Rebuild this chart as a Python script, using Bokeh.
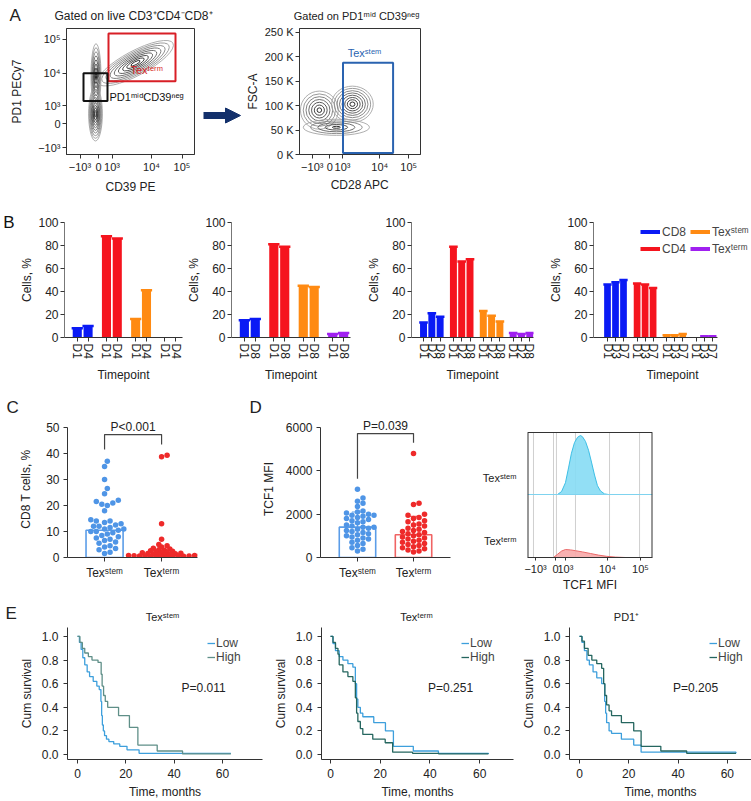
import numpy as np
from bokeh.plotting import figure
from bokeh.layouts import row, column
from bokeh.models import (FixedTicker, Label, Legend, LegendItem, Arrow, NormalHead,
                          Range1d, NumeralTickFormatter, LinearAxis)
from bokeh.core.properties import value
from bokeh.embed import file_html
from bokeh.resources import INLINE

FONT = "Liberation Sans"

# ---------------- Panel A : flow gating (channel units 0-1024, biexponential ticks) ----------------
a_titles = ["Gated on live CD3⁺CD4⁻CD8⁺", "Gated on PD1ᵐⁱᵈ CD39ⁿᵉᵍ"]
a_x_tick_ch = [108, 256, 364, 680, 924]
a_x_tick_lab = ["−10³", "0", "10³", "10⁴", "10⁵"]
a1_y_tick_ch = [56, 250, 395, 661, 935]
a1_y_tick_lab = ["−10³", "0", "10³", "10⁴", "10⁵"]
a2_y_ticks = [0, 50000, 100000, 150000, 200000, 250000]
a2_y_tick_lab = ["0 K", "50 K", "100 K", "150 K", "200 K", "250 K"]

a1_pop_x = [232, 236, 552]
a1_pop_y = [330, 640, 742]
a1_pop_w = [110, 80, 680]
a1_pop_h = [440, 520, 200]
a1_pop_angle = [0.0, 0.0, 0.49]
a1_pop_levels = [10, 8, 9]

a2_pop_x = [168, 448, 312]
a2_pop_y = [90800, 103000, 55700]
a2_pop_w = [320, 352, 560]
a2_pop_h = [78000, 74000, 33000]
a2_pop_angle = [0.0, 0.0, 0.0]
a2_pop_levels = [7, 8, 5]

a1_gate_term = [336, 872, 596, 983]   # left, right, bottom, top
a1_gate_mid = [136, 328, 435, 661]
a2_gate_stem = [368, 792, 3000, 188000]

# ---------------- Panel B : bar charts ----------------
b_groups = ["CD8", "CD4", "Texˢᵗᵉᵐ", "Texᵗᵉʳᵐ"]
b_colors = ["#0a1af5", "#f5141e", "#ff8a12", "#a020f0"]
b1_days = ["D1", "D4"]
b1_cd8 = [8, 10]
b1_cd4 = [88, 86]
b1_stem = [16, 41]
b1_term = [0, 0]
b2_days = ["D1", "D8"]
b2_cd8 = [15, 16]
b2_cd4 = [81, 79]
b2_stem = [45, 44]
b2_term = [3, 4]
b3_days = ["D1", "D2", "D8"]
b3_cd8 = [13, 21, 18]
b3_cd4 = [79, 66, 68]
b3_stem = [23, 19, 14]
b3_term = [4, 3, 4]
b4_days = ["D1", "D3", "D7"]
b4_cd8 = [46, 48, 50]
b4_cd4 = [47, 46, 43]
b4_stem = [2, 2, 3]
b4_term = [0, 1, 1]
b_y_ticks = [0, 20, 40, 60, 80, 100]

# ---------------- Panel C / D ----------------
cd_categories = ["Texˢᵗᵉᵐ", "Texᵗᵉʳᵐ"]
c_stem = [37, 35, 30, 26.5, 24.5, 22, 21.5, 21, 20.5, 20, 18, 14.5, 14, 14, 13.5, 13, 12.5,
          12, 12, 11.5, 11, 11, 10.5, 10, 10, 9.5, 9, 8.5, 8, 7.5, 7, 6.5, 6, 5.5, 4.5, 4,
          3.5, 3, 2, 1.5]
c_term = [39.3, 38.8, 13, 7, 5, 4.5, 4, 3.6, 3.3, 3.0, 2.8, 2.6, 2.4, 2.2, 2.0, 1.9, 1.8,
          1.6, 1.5, 1.4, 1.3, 1.2, 1.1, 1.0, 0.9, 0.8, 0.8, 0.7, 0.6, 0.6, 0.5, 0.5, 0.4,
          0.4, 0.3, 0.3, 0.2, 0.2]
c_bar = [10.5, 1.2]
c_pvalue = "P<0.001"
d_stem = [3150, 2750, 2600, 2500, 2350, 2150, 2100, 2050, 2000, 1950, 1950, 1900, 1850, 1800,
          1750, 1700, 1650, 1600, 1500, 1450, 1400, 1400, 1350, 1300, 1250, 1200, 1150, 1100,
          1050, 1000, 950, 900, 850, 800, 700, 650, 550, 450, 380, 300]
d_term = [4800, 2500, 2450, 2000, 1950, 1850, 1800, 1700, 1650, 1550, 1500, 1450, 1350, 1300,
          1250, 1200, 1150, 1100, 1050, 1000, 950, 900, 850, 800, 750, 700, 650, 600, 550,
          500, 450, 400, 350, 300, 250]
d_bar = [1400, 1050]
d_sd = [700, 850]
d_pvalue = "P=0.039"

# histogram (TCF1 MFI), channel units
hist_tick_ch = [66, 229, 311, 655, 925]
hist_tick_lab = ["−10³", "0", "10³", "10⁴", "10⁵"]
hist_grid_ch = [49, 213, 237, 393, 672, 918]
hist_stem_ch = [246, 279, 311, 336, 360, 385, 410, 434, 450, 475, 500, 524, 549, 573, 598, 631, 663]
hist_stem_h = [0, 0.05, 0.2, 0.45, 0.7, 0.88, 0.97, 1.0, 0.98, 0.9, 0.75, 0.55, 0.33, 0.15, 0.06, 0.01, 0]
hist_term_ch = [213, 246, 279, 311, 352, 393, 450, 516, 581, 647, 721, 803]
hist_term_h = [0, 0.4, 0.8, 1.0, 0.95, 0.85, 0.7, 0.5, 0.3, 0.15, 0.05, 0]

# ---------------- Panel E : Kaplan-Meier ----------------
km_titles = ["Texˢᵗᵉᵐ", "Texᵗᵉʳᵐ", "PD1⁺"]
km_pvalues = ["P=0.011", "P=0.251", "P=0.205"]
e1_low_t = [0, 0.8, 1.5, 2.2, 3, 4, 5, 6.5, 8, 9, 9.7, 10, 10.3, 10.7, 11.2, 12, 13, 15, 17.5, 20.5, 25.5, 63.5]
e1_low_s = [1.0, 0.95, 0.89, 0.82, 0.76, 0.7, 0.66, 0.62, 0.58, 0.55, 0.45, 0.33, 0.25, 0.2, 0.16, 0.13, 0.11, 0.09, 0.07, 0.04, 0.01, 0.01]
e1_high_t = [0, 1, 2, 3, 4.5, 6, 8.5, 9.8, 10.2, 10.8, 11.5, 12.5, 17, 21.5, 25, 33, 43.5, 63.5]
e1_high_s = [1.0, 0.95, 0.9, 0.86, 0.83, 0.8, 0.78, 0.68, 0.58, 0.5, 0.45, 0.4, 0.33, 0.23, 0.08, 0.03, 0.005, 0.005]
e2_low_t = [0, 1, 2, 3.5, 5, 7, 9, 10, 10.5, 11, 12, 13, 17.4, 22.1, 25.3, 33.3, 43.4, 63.5]
e2_low_s = [1.0, 0.94, 0.88, 0.83, 0.8, 0.77, 0.74, 0.6, 0.47, 0.4, 0.35, 0.32, 0.27, 0.2, 0.07, 0.03, 0.01, 0.005]
e2_high_t = [0, 1, 2, 3, 3.5, 5, 7, 9, 10, 10.5, 11, 12, 13, 17, 22, 25, 33, 43.5, 63.5]
e2_high_s = [1.0, 0.95, 0.9, 0.85, 0.76, 0.7, 0.66, 0.62, 0.48, 0.35, 0.28, 0.22, 0.17, 0.13, 0.1, 0.02, 0.01, 0.005, 0.005]
e3_low_t = [0, 1, 2, 3, 4, 5.5, 7, 9, 10.2, 10.6, 11, 12, 13, 17, 22, 25, 63.5]
e3_low_s = [1.0, 0.95, 0.88, 0.8, 0.76, 0.7, 0.65, 0.6, 0.45, 0.35, 0.27, 0.2, 0.18, 0.13, 0.08, 0.02, 0.01]
e3_high_t = [0, 1, 2, 3.5, 5, 7, 9, 9.8, 10.3, 11, 12, 13, 17, 22, 25, 33, 43.5, 63.5]
e3_high_s = [1.0, 0.96, 0.9, 0.84, 0.8, 0.77, 0.73, 0.6, 0.5, 0.42, 0.37, 0.33, 0.27, 0.2, 0.07, 0.03, 0.01, 0.01]
km_y_ticks = [0, 0.2, 0.4, 0.6, 0.8, 1.0]
km_x_ticks = [0, 20, 40, 60]

INK = "#222222"
BLUE_PT = "#4f95e6"
RED_PT = "#ee2a2a"
LOW_C = "#3d9fdc"
HIGH_C = "#25665f"
NAN = float("nan")


def make_fig(w, h, left, right, top, bottom, xr, yr):
    p = figure(width=w, height=h, x_range=xr, y_range=yr, output_backend="svg",
               toolbar_location=None, min_border_left=left, min_border_right=right,
               min_border_top=top, min_border_bottom=bottom,
               background_fill_color="white", border_fill_color="white")
    p.outline_line_color = None
    p.xgrid.visible = False
    p.ygrid.visible = False
    return p


def make_header(w, h, texts):
    """Strip holding panel letters and panel titles (positions in px, y from the strip bottom)."""
    p = figure(width=w, height=h, x_range=Range1d(0, w), y_range=Range1d(0, h),
               output_backend="svg", toolbar_location=None, x_axis_type=None,
               y_axis_type=None, min_border=0, background_fill_color="white",
               border_fill_color="white")
    p.outline_line_color = None
    p.xgrid.visible = False
    p.ygrid.visible = False
    for txt, x, y, size, align in texts:
        p.text(x=[x], y=[y], text=[txt], text_font=value(FONT),
               text_font_size=value("%dpx" % size), text_align=align,
               text_baseline="middle", text_color=INK)
    return p


def style_axes(p, tick_size="11px", label_size="12px", tick_std=3, lab_std=4):
    for ax in p.axis:
        ax.major_label_text_font = FONT
        ax.major_label_text_font_size = tick_size
        ax.major_label_text_color = INK
        ax.axis_label_text_font = FONT
        ax.axis_label_text_font_size = label_size
        ax.axis_label_text_font_style = "normal"
        ax.axis_label_text_color = INK
        ax.minor_tick_line_color = None
        ax.major_tick_in = 0
        ax.major_tick_out = 4
        ax.axis_line_color = "#333333"
        ax.major_tick_line_color = "#333333"
        ax.major_label_standoff = tick_std
        ax.axis_label_standoff = lab_std


def greys(n):
    vals = np.linspace(165, 25, n).astype(int)
    return ["#%02x%02x%02x" % (v, v, v) for v in vals]


def contours(p, xs, ys, ws, hs, angles, levels):
    for cx, cy, w, h, a, n in zip(xs, ys, ws, hs, angles, levels):
        fr = np.linspace(1.0, 0.12, n)
        p.ellipse(x=[cx] * n, y=[cy] * n, width=list(w * fr), height=list(h * fr),
                  angle=a, fill_color=None, line_color=greys(n), line_width=0.9)


def gate(p, g, color):
    p.quad(left=[g[0]], right=[g[1]], bottom=[g[2]], top=[g[3]], fill_color=None,
           line_color=color, line_width=2)


# ======================= Row A (all plots in a row share top/bottom borders) =======================
headerA = make_header(751, 24, [("A", 9, 9, 17, "left"), (a_titles[0], 133, 9, 12, "center"),
                                (a_titles[1], 356, 9, 11, "center")])

pA1 = make_fig(200, 173, 66, 6, 4, 43, Range1d(0, 1024), Range1d(0, 1024))
pA1.outline_line_color = "#333333"
contours(pA1, a1_pop_x, a1_pop_y, a1_pop_w, a1_pop_h, a1_pop_angle, a1_pop_levels)
gate(pA1, a1_gate_term, "#d81f26")
gate(pA1, a1_gate_mid, "#111111")
pA1.add_layout(Label(x=a1_gate_term[0] + 176, y=685, text="Texᵗᵉʳᵐ", text_color="#d81f26",
                     text_font=FONT, text_font_size="11px", text_baseline="middle"))
pA1.add_layout(Label(x=a1_gate_mid[1] + 16, y=467, text="PD1ᵐⁱᵈCD39ⁿᵉᵍ", text_color="#111111",
                     text_font=FONT, text_font_size="11px", text_baseline="middle"))
pA1.xaxis.ticker = FixedTicker(ticks=a_x_tick_ch)
pA1.xaxis.major_label_overrides = dict(zip(a_x_tick_ch, a_x_tick_lab))
pA1.yaxis.ticker = FixedTicker(ticks=a1_y_tick_ch)
pA1.yaxis.major_label_overrides = dict(zip(a1_y_tick_ch, a1_y_tick_lab))
pA1.xaxis.axis_label = "CD39 PE"
pA1.yaxis.axis_label = "PD1 PECy7"
style_axes(pA1, tick_size="11px", label_size="12px", tick_std=2, lab_std=4)
pA1.yaxis.axis_label_standoff = 11

# arrow strip: frame spans 126 px (same borders as the plots of this row)
pArrow = figure(width=42, height=173, x_range=Range1d(0, 42), y_range=Range1d(0, 126),
                output_backend="svg", toolbar_location=None, x_axis_type=None,
                y_axis_type=None, min_border_left=0, min_border_right=0,
                min_border_top=4, min_border_bottom=43)
pArrow.outline_line_color = None
pArrow.xgrid.visible = False
pArrow.ygrid.visible = False
pArrow.add_layout(Arrow(x_start=3, y_start=39, x_end=40, y_end=39, line_width=7,
                        line_color="#13306b",
                        end=NormalHead(size=15, fill_color="#13306b", line_color="#13306b")))

pA2 = make_fig(188, 173, 49, 10, 4, 43, Range1d(0, 1024), Range1d(0, 258000))
pA2.outline_line_color = "#333333"
contours(pA2, a2_pop_x, a2_pop_y, a2_pop_w, a2_pop_h, a2_pop_angle, a2_pop_levels)
gate(pA2, a2_gate_stem, "#2a63b0")
pA2.add_layout(Label(x=a2_gate_stem[0] + 40, y=208000, text="Texˢᵗᵉᵐ", text_color="#2a63b0",
                     text_font=FONT, text_font_size="11px", text_baseline="middle"))
pA2.xaxis.ticker = FixedTicker(ticks=a_x_tick_ch)
pA2.xaxis.major_label_overrides = dict(zip(a_x_tick_ch, a_x_tick_lab))
pA2.yaxis.ticker = FixedTicker(ticks=a2_y_ticks)
pA2.yaxis.major_label_overrides = dict(zip(a2_y_ticks, a2_y_tick_lab))
pA2.xaxis.axis_label = "CD28 APC"
pA2.yaxis.axis_label = "FSC-A"
style_axes(pA2, tick_size="11px", label_size="12px", tick_std=2, lab_std=2)

# ======================= Row B =======================
b_data = [
    (b1_days, [b1_cd8, b1_cd4, b1_stem, b1_term]),
    (b2_days, [b2_cd8, b2_cd4, b2_stem, b2_term]),
    (b3_days, [b3_cd8, b3_cd4, b3_stem, b3_term]),
    (b4_days, [b4_cd8, b4_cd4, b4_stem, b4_term]),
]
# figure width, left border, right border, x range, axis end, group step (layout only)
b_layout = [(184, 62, 2, -11.8, 97.3, 97.3, 27), (168, 46, 2, -11.8, 97.3, 97.3, 27),
            (183, 59, 2, -14.5, 132.5, 132.5, 36), (216, 58, 0, -17.5, 180.0, 137.5, 37)]
b_figs = []
for k, ((days, series), (w, lb, rb, x0, x1, xend, gstep)) in enumerate(zip(b_data, b_layout)):
    p = make_fig(w, 188, lb, rb, 25, 48, Range1d(x0, x1), Range1d(0, 100))
    ticks, labels = [], []
    for g, (vals, col) in enumerate(zip(series, b_colors)):
        xs = [g * gstep + i * 10 for i in range(len(vals))]
        ticks += xs
        labels += days
        p.vbar(x=xs, top=vals, width=8.4, fill_color=col, line_color=None)
        cx = [x for x, v in zip(xs, vals) if v > 0]
        cv = [v for v in vals if v > 0]
        if cx:
            p.segment(x0=[x - 5.2 for x in cx], y0=cv, x1=[x + 5.2 for x in cx], y1=cv,
                      line_color=col, line_width=2.5)
    p.xaxis.ticker = FixedTicker(ticks=ticks)
    p.xaxis.major_label_overrides = dict(zip(ticks, labels))
    p.xaxis.major_label_orientation = "vertical"
    p.xaxis.bounds = (x0, xend)
    p.yaxis.ticker = FixedTicker(ticks=b_y_ticks)
    p.xaxis.axis_label = "Timepoint"
    p.yaxis.axis_label = "Cells, %"
    style_axes(p, tick_size="12px", label_size="12px", tick_std=2, lab_std=1)
    p.xaxis.axis_label_standoff = 6
    p.yaxis.axis_line_color = "#777777"
    b_figs.append(p)

# panel letter "B" as an outer tick label on the first chart
letter_axis = LinearAxis(ticker=FixedTicker(ticks=[100]), major_label_overrides={100: "B"},
                         axis_line_color=None, major_tick_line_color=None,
                         minor_tick_line_color=None, major_tick_out=0, major_tick_in=0,
                         major_label_standoff=3, major_label_text_font=FONT,
                         major_label_text_font_size="17px", major_label_text_color="#111111")
b_figs[0].add_layout(letter_axis, "left")

pB4 = b_figs[3]
leg_r = [pB4.line(x=[NAN], y=[NAN], line_color=c, line_width=4) for c in b_colors]
for items, vx in (([0, 1], 47), ([2, 3], 97)):
    lg = Legend(items=[LegendItem(label=b_groups[i], renderers=[leg_r[i]]) for i in items],
                location=(vx, 80), orientation="vertical", border_line_color=None,
                background_fill_alpha=0, padding=0, spacing=0, margin=0,
                label_text_font=FONT, label_text_font_size="12px", label_height=17,
                glyph_height=17, glyph_width=20, label_standoff=2)
    pB4.add_layout(lg)

# ======================= Row C / D (shared borders: top 2, bottom 38 -> frames 420-557 px) ===========
headerCD = make_header(751, 33, [("C", 6, 11, 17, "left"), ("D", 249, 11, 17, "left")])


def swarm(vals, px_per_y, px_per_x, dot, gap=0.95):
    vals = np.asarray(vals, dtype=float)
    order = np.argsort(vals)
    placed = []
    offs = np.zeros(len(vals))
    step = dot * 0.5
    for idx in order:
        ypx = vals[idx] * px_per_y
        k = 0
        while True:
            cand = 0 if k == 0 else ((k + 1) // 2) * step * (1 if k % 2 else -1)
            if all((cand - px) ** 2 + (ypx - py) ** 2 >= (dot * gap) ** 2 for px, py in placed):
                break
            k += 1
        placed.append((cand, ypx))
        offs[idx] = cand / px_per_x
    return offs


def bars(p, values):
    for i, bcol in enumerate(("#5b9de8", "#f06464")):
        p.vbar(x=[i + 1], top=[values[i]], width=0.65, fill_color="white", line_color=bcol,
               line_width=1.6)


pC = make_fig(250, 177, 67, 53, 2, 38, Range1d(0.35, 2.63), Range1d(0, 52.7))
bars(pC, c_bar)
for i, (vals, col, gap) in enumerate(((c_stem, BLUE_PT, 0.95), (c_term, RED_PT, 0.6))):
    offs = swarm(vals, 130 / 50, 57, 5.5, gap)
    pC.scatter(x=list(i + 1 + offs), y=vals, size=5.5, fill_color=col, line_color=None)
c_top = 47.3
pC.line(x=[1, 1, 2, 2], y=[max(c_stem) + 4.5, c_top, c_top, max(c_term) + 4.2],
        line_color="#444444", line_width=1.2)
pC.add_layout(Label(x=1.5, y=c_top, y_offset=1, text=c_pvalue, text_align="center",
                    text_baseline="bottom", text_font=FONT, text_font_size="12px", text_color=INK))
pC.xaxis.ticker = FixedTicker(ticks=[1, 2])
pC.xaxis.major_label_overrides = {1: cd_categories[0], 2: cd_categories[1]}
pC.yaxis.ticker = FixedTicker(ticks=[0, 10, 20, 30, 40, 50])
pC.yaxis.bounds = (0, 50)
pC.yaxis.axis_label = "CD8 T cells, %"
style_axes(pC, tick_size="12px", label_size="12px", tick_std=4, lab_std=10)

pD = make_fig(215, 177, 70, 15, 2, 38, Range1d(0.34, 2.66), Range1d(0, 6323))
bars(pD, d_bar)
for i, (vals, col) in enumerate(((d_stem, BLUE_PT), (d_term, RED_PT))):
    ecol = ["#5b9de8", "#f06464"][i]
    pD.segment(x0=[i + 1], y0=[d_bar[i]], x1=[i + 1], y1=[d_bar[i] + d_sd[i]],
               line_color=ecol, line_width=1.2)
    pD.segment(x0=[i + 1 - 0.1], y0=[d_bar[i] + d_sd[i]], x1=[i + 1 + 0.1],
               y1=[d_bar[i] + d_sd[i]], line_color=ecol, line_width=1.2)
    offs = swarm(vals, 130 / 6000, 56, 5.5)
    pD.scatter(x=list(i + 1 + offs), y=vals, size=5.5, fill_color=col, line_color=None)
d_top = 5720
pD.line(x=[1, 1, 2, 2], y=[max(d_stem) + 480, d_top, d_top, max(d_term) + 500],
        line_color="#444444", line_width=1.2)
pD.add_layout(Label(x=1.5, y=d_top, y_offset=1, text=d_pvalue, text_align="center",
                    text_baseline="bottom", text_font=FONT, text_font_size="12px", text_color=INK))
pD.xaxis.ticker = FixedTicker(ticks=[1, 2])
pD.xaxis.major_label_overrides = {1: cd_categories[0], 2: cd_categories[1]}
pD.yaxis.ticker = FixedTicker(ticks=[0, 2000, 4000, 6000])
pD.yaxis.bounds = (0, 6000)
pD.yaxis.axis_label = "TCF1 MFI"
style_axes(pD, tick_size="12px", label_size="12px", tick_std=4, lab_std=7)

# histogram: y in px units over the 137 px frame, box drawn up to 125
pH = make_fig(286, 177, 62, 99, 2, 38, Range1d(0, 1024), Range1d(0, 137))
box_top = 125
pH.segment(x0=hist_grid_ch, y0=[0] * len(hist_grid_ch), x1=hist_grid_ch,
           y1=[box_top] * len(hist_grid_ch), line_color="#cfcfcf", line_width=1)
stem_base, stem_scale, term_scale = 63, 59, 8
pH.varea(x=hist_stem_ch, y1=[stem_base] * len(hist_stem_ch),
         y2=[stem_base + h * stem_scale for h in hist_stem_h], fill_color="#86dcf4", fill_alpha=0.9)
pH.line(x=hist_stem_ch, y=[stem_base + h * stem_scale for h in hist_stem_h], line_color="#3cbfe6",
        line_width=1)
pH.segment(x0=[0], y0=[stem_base], x1=[1024], y1=[stem_base], line_color="#7fd3ef", line_width=1.2)
pH.varea(x=hist_term_ch, y1=[0] * len(hist_term_ch), y2=[h * term_scale for h in hist_term_h],
         fill_color="#f7a8a8", fill_alpha=0.9)
pH.line(x=hist_term_ch, y=[h * term_scale for h in hist_term_h], line_color="#ea6a6a", line_width=1)
# box: side edges at the frame edges (half clipped), top edge inside the frame
pH.segment(x0=[0, 1024], y0=[0, 0], x1=[0, 1024], y1=[box_top, box_top],
           line_color="#333333", line_width=2)
pH.segment(x0=[0], y0=[box_top], x1=[1024], y1=[box_top], line_color="#333333", line_width=1)
pH.xaxis.ticker = FixedTicker(ticks=hist_tick_ch)
pH.xaxis.major_label_overrides = dict(zip(hist_tick_ch, hist_tick_lab))
pH.xaxis.axis_label = "TCF1 MFI"
pH.yaxis.ticker = FixedTicker(ticks=[80, 17])
pH.yaxis.major_label_overrides = {80: cd_categories[0], 17: cd_categories[1]}
style_axes(pH, tick_size="11px", label_size="12px", tick_std=2, lab_std=0)
pH.yaxis.axis_line_color = None
pH.yaxis.major_tick_line_color = None
pH.yaxis.major_label_standoff = 7
pH.xaxis.major_tick_out = 3

# ======================= Row E =======================
headerE = make_header(751, 31, [("E", 5, 13, 17, "left"), (km_titles[0], 162, 10, 11, "center"),
                                (km_titles[1], 416, 10, 11, "center"),
                                (km_titles[2], 626, 10, 11, "center")])
km_data = [(e1_low_t, e1_low_s, e1_high_t, e1_high_s),
           (e2_low_t, e2_low_s, e2_high_t, e2_high_s),
           (e3_low_t, e3_low_s, e3_high_t, e3_high_s)]
# width, left, right, x range, p-label x
e_layout = [(264, 67, 2, -4.14, 76.6, 52.2), (251, 57, 2, -3.62, 73.6, 48.3),
            (236, 54, 0, -4.06, 69.8, 47.1)]
high_cols = ["#5f8f88", HIGH_C, HIGH_C]
e_figs = []
for k, ((lt, ls, ht, hs), (w, lb, rb, x0, x1, px)) in enumerate(zip(km_data, e_layout)):
    p = make_fig(w, 175, lb, rb, 1, 41, Range1d(x0, x1), Range1d(-0.042, 1.076))
    r_low = p.step(x=lt, y=ls, mode="after", line_color=LOW_C, line_width=1.3)
    r_high = p.step(x=ht, y=hs, mode="after", line_color=high_cols[k], line_width=1.3)
    p.add_layout(Label(x=px, y=0.56, text=km_pvalues[k], text_align="center",
                       text_baseline="middle", text_font=FONT, text_font_size="12px",
                       text_color=INK))
    lg = Legend(items=[LegendItem(label="Low", renderers=[r_low]),
                       LegendItem(label="High", renderers=[r_high])],
                location=(140, 95), border_line_color=None, background_fill_alpha=0,
                padding=0, spacing=0, margin=0, label_text_font=FONT,
                label_text_font_size="12px", label_height=14, glyph_height=14,
                glyph_width=8, label_standoff=1)
    p.add_layout(lg)
    p.xaxis.ticker = FixedTicker(ticks=km_x_ticks)
    p.yaxis.ticker = FixedTicker(ticks=km_y_ticks)
    p.yaxis.formatter = NumeralTickFormatter(format="0.0")
    p.xaxis.axis_label = "Time, months"
    p.yaxis.axis_label = "Cum survival"
    style_axes(p, tick_size="12px", label_size="12px", tick_std=5, lab_std=4)
    p.yaxis.axis_label_standoff = 5
    e_figs.append(p)

layout = column(
    headerA,
    row(pA1, pArrow, pA2),
    row(*b_figs),
    headerCD,
    row(pC, pD, pH),
    headerE,
    row(*e_figs),
)

open("out.html", "w").write(file_html(layout, INLINE))
